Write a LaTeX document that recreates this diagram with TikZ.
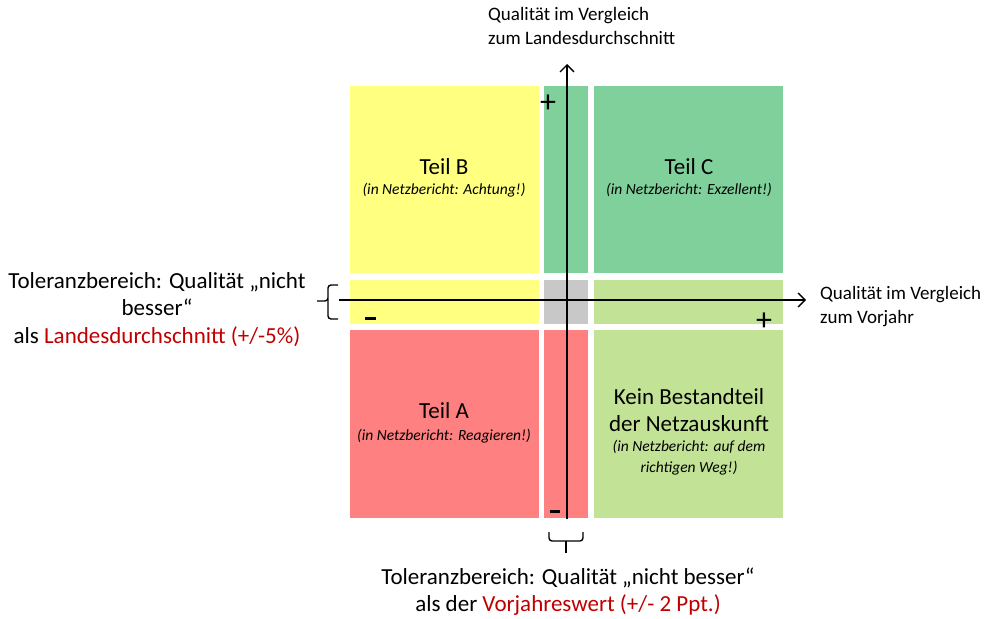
\documentclass[tikz,border=0pt]{standalone}
\usepackage{fontspec}
\setmainfont{Carlito}
\usetikzlibrary{arrows.meta}
\definecolor{cyellow}{RGB}{255,255,128}
\definecolor{cgreen}{RGB}{127,208,155}
\definecolor{clgreen}{RGB}{194,226,150}
\definecolor{cred}{RGB}{255,128,128}
\definecolor{cgray}{RGB}{200,200,200}
\definecolor{darkred}{RGB}{192,0,0}
\tikzset{
  axis/.style={line width=1.3pt,-{Straight Barb[length=7pt,width=14pt,line width=1.3pt]}},
  title/.style={font=\fontsize{23}{27}\selectfont, align=center, inner sep=0pt},
  sub/.style={font=\fontsize{15.5}{21}\selectfont\itshape, align=center, inner sep=0pt},
  lbl/.style={font=\fontsize{19}{24}\selectfont, align=left, inner sep=0pt},
  big/.style={font=\fontsize{23}{27.5}\selectfont, align=center, inner sep=0pt},
  sign/.style={font=\fontsize{32}{32}\selectfont, inner sep=0pt},
  minus/.style={line width=3pt},
  brc/.style={line width=1.4pt, rounded corners=3pt}
}
\begin{document}
\begin{tikzpicture}[x=1pt,y=-1pt]
\useasboundingbox (0,0) rectangle (989,619);
% cells
\fill[cyellow] (350,86) rectangle (539,273);
\fill[cgreen] (544,86) rectangle (588,273);
\fill[cgreen] (594,86) rectangle (783,273);
\fill[cyellow] (350,280) rectangle (539,324);
\fill[cgray] (544,280) rectangle (588,324);
\fill[clgreen] (594,280) rectangle (783,324);
\fill[cred] (350,330) rectangle (539,518);
\fill[cred] (544,330) rectangle (588,518);
\fill[clgreen] (594,330) rectangle (783,518);
% axes
\coordinate (ybot) at (567,519);
\coordinate (ytop) at (567,64);
\coordinate (xleft) at (339,300);
\coordinate (xright) at (806,300);
\draw[axis] (ybot) -- (ytop);
\draw[axis] (xleft) -- (xright);
% braces
\draw[brc] (338,285) -- (328,285) -- (328,301) -- (317,301);
\draw[brc] (328,299) -- (328,319) -- (338,319);
\draw[brc] (549,532) -- (549,541) -- (583,541) -- (583,532);
\draw[brc] (566,541) -- (566,553);
% signs
\node[sign] (p1) at (548,104) {+};
\node[sign] (p2) at (764,322) {+};
\coordinate (m1a) at (365,318); \coordinate (m1b) at (376,318);
\draw[minus] (m1a) -- (m1b);
\coordinate (m2a) at (550,511); \coordinate (m2b) at (560,511);
\draw[minus] (m2a) -- (m2b);
% quadrant texts
\node[title] (tb) at (444,167) {Teil B};
\node[sub] (tbs) at (444,190) {(in Netzbericht: Achtung!)};
\node[title] (tc) at (689,167) {Teil C};
\node[sub] (tcs) at (689,190) {(in Netzbericht: Exzellent!)};
\node[title] (ta) at (444,411) {Teil A};
\node[sub] (tas) at (444,436) {(in Netzbericht: Reagieren!)};
\node[title] (tk) at (689,410.5) {Kein Bestandteil\\der Netzauskunft};
\node[sub] (tks) at (689,457.5) {(in Netzbericht: auf dem\\richtigen Weg!)};
% axis labels
\node[lbl, anchor=north west] (ly) at (488,7) {Qualität im Vergleich\\zum Landesdurchschnitt};
\node[lbl, anchor=north west] (lx) at (820,286) {Qualität im Vergleich\\zum Vorjahr};
\node[big] (ll) at (157,309.5) {Toleranzbereich: Qualität „nicht\\besser“\\als \textcolor{darkred}{Landesdurchschnitt (+/-5\%)}};
\node[big] (lb) at (568,591.5) {Toleranzbereich: Qualität „nicht besser“\\als der \textcolor{darkred}{Vorjahreswert (+/- 2 Ppt.)}};
\end{tikzpicture}
\end{document}
